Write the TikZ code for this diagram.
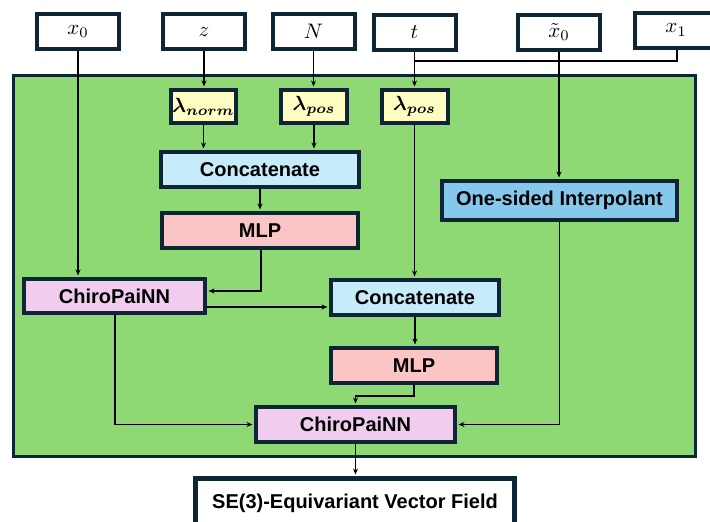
\documentclass[tikz,border=0pt]{standalone}
\usepackage{graphicx}
\usepackage{fontspec}
\usepackage{bm}
\newfontfamily\lblfont{Liberation Sans}
\usetikzlibrary{arrows.meta}
\definecolor{edgec}{HTML}{0E2535}
\definecolor{greenbg}{HTML}{8FD974}
\definecolor{lamfill}{HTML}{FFFDC2}
\definecolor{catfill}{HTML}{C6ECFA}
\definecolor{mlpfill}{HTML}{FBC5C5}
\definecolor{chirofill}{HTML}{F0CDEE}
\definecolor{interfill}{HTML}{84C9EC}
\newcommand{\inmath}[1]{\scalebox{2.1}{$#1$}}
\newcommand{\lamlbl}[1]{\scalebox{2.05}{$\bm{\lambda}_{\bm{#1}}$}}
\tikzset{
  bx/.style={draw=edgec, line width=4pt, inner sep=0pt, align=center},
  inbox/.style={bx, fill=white, minimum width=82pt, minimum height=35pt},
  lambox/.style={bx, fill=lamfill, minimum height=33pt, minimum width=66pt},
  opbox/.style={bx, minimum height=35pt, font=\lblfont\bfseries\fontsize{20}{22}\selectfont},
  conn/.style={draw=black, line width=1.2pt},
  arr/.style={conn, -{Stealth[length=6pt,width=5pt]}, shorten >=1.5pt},
}
\begin{document}
\begin{tikzpicture}[x=1pt,y=-1pt]
\useasboundingbox (0,0) rectangle (710,522);
\clip (0,0) rectangle (710,522);
\fill[white] (0,0) rectangle (710,522);
% green container
\node[draw=edgec, line width=3pt, fill=greenbg, minimum width=682pt, minimum height=381pt, inner sep=0pt] (frame) at (354.5,266) {};
% inputs
\node[inbox] (x0) at (78,31.5) {\inmath{x_0}};
\node[inbox] (z) at (204,31.5) {\inmath{z}};
\node[inbox] (N) at (313.5,31.5) {\inmath{N}};
\node[inbox] (t) at (414.5,32) {\inmath{t}};
\node[inbox] (xt) at (559,32) {\inmath{\tilde{x}_0}};
\node[inbox] (x1) at (676,30) {\inmath{x_1}};
% lambdas
\node[lambox, minimum width=65pt] (lnorm) at (203.5,106.5) {\lamlbl{norm}};
\node[lambox] (lpos) at (314,106.5) {\lamlbl{pos}};
\node[lambox] (lpost) at (414.5,106.5) {\lamlbl{pos}};
% operations
\node[opbox, fill=catfill, minimum width=198pt] (cat1) at (260,169.5) {Concatenate};
\node[opbox, fill=mlpfill, minimum width=196pt] (mlp1) at (260,230.5) {MLP};
\node[opbox, fill=chirofill, minimum width=181pt, minimum height=34pt] (chiro1) at (114.5,296) {ChiroPaiNN};
\node[opbox, fill=catfill, minimum width=168pt] (cat2) at (415,297.5) {Concatenate};
\node[opbox, fill=interfill, minimum width=235pt, minimum height=39pt] (inter) at (559.5,200.5) {One-sided Interpolant};
\node[opbox, fill=mlpfill, minimum width=166pt] (mlp2) at (414,365.5) {MLP};
\node[opbox, fill=chirofill, minimum width=199pt] (chiro2) at (355.5,424.5) {ChiroPaiNN};
\node[opbox, fill=white, line width=5pt, minimum width=319pt, minimum height=50pt] (out) at (355,503.5) {\raisebox{2pt}{SE(3)-Equivariant Vector Field}};
% connectors
\draw[arr] (x0.south) -- (x0.south |- chiro1.north);
\draw[arr] (z.south) -- (z.south |- lnorm.north);
\draw[arr] (N.south) -- (N.south |- lpos.north);
\draw[arr] (t.south) -- (t.south |- lpost.north);
\coordinate (j1) at (677,61);
\draw[conn] (x1.south -| j1) -- (j1) -- (j1 -| t.south);
\draw[arr] (xt.south) -- (xt.south |- inter.north);
\draw[arr] (lnorm.south) -- (lnorm.south |- cat1.north);
\draw[arr] (lpos.south) -- (lpos.south |- cat1.north);
\draw[arr] (cat1.south) -- (cat1.south |- mlp1.north);
\coordinate (b1) at (261,291);
\draw[arr] (mlp1.south -| b1) -- (b1) -- (b1 -| chiro1.east);
\coordinate (b2) at (207,307);
\draw[arr] (b2 -| chiro1.east) -- (b2 -| cat2.west);
\draw[arr] (lpost.south) -- (lpost.south |- cat2.north);
\draw[arr] (cat2.south) -- (cat2.south |- mlp2.north);
\coordinate (b3) at (414,396);
\draw[arr] (mlp2.south) -- (b3) -- (b3 -| chiro2.north) -- (chiro2.north);
\coordinate (b4) at (115,424.5);
\draw[arr] (chiro1.south -| b4) -- (b4) -- (chiro2.west);
\draw[arr] (inter.south) -- (inter.south |- chiro2.east) -- (chiro2.east);
\draw[arr] (chiro2.south) -- (chiro2.south |- out.north);
\end{tikzpicture}
\end{document}
